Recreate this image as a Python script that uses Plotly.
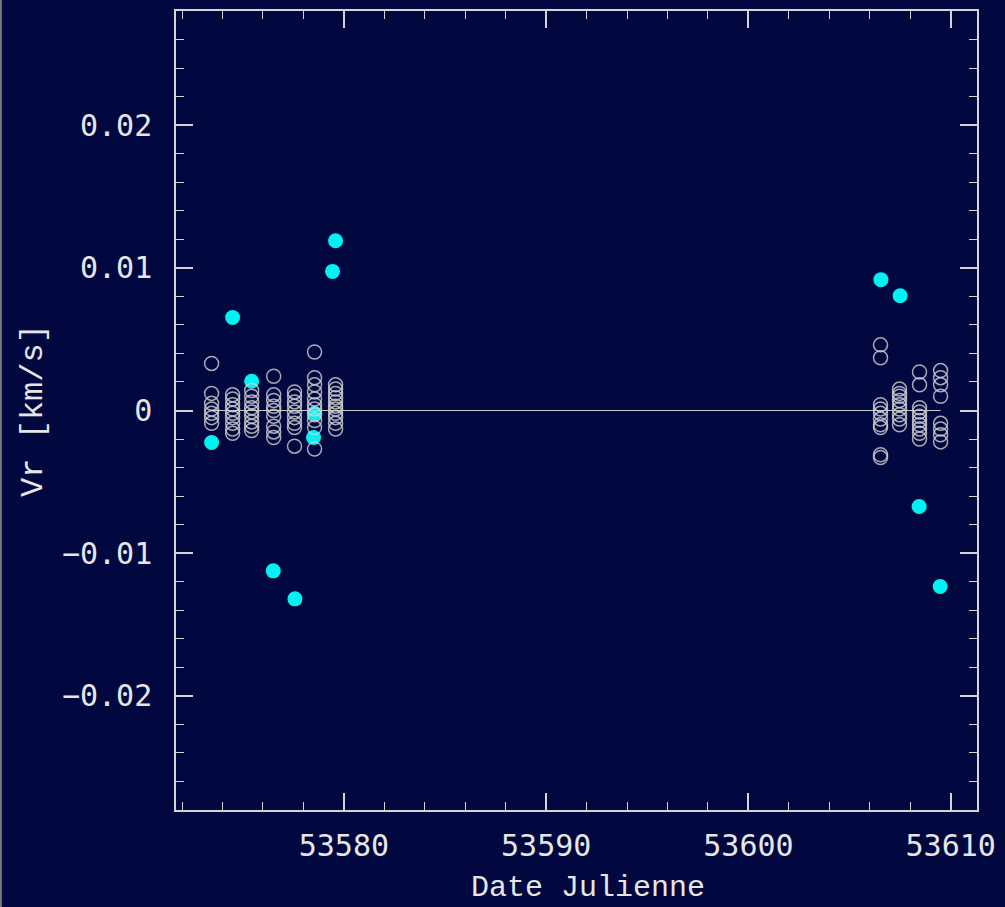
import plotly.graph_objects as go

# --- data ---
# individual measurements (open circles)
col_dates = [53573.46, 53574.50, 53575.44, 53576.53, 53577.56, 53578.55, 53579.59,
             53606.53, 53607.47, 53608.46, 53609.50]
col_values = [
    [0.0033, 0.0012, 0.0005, 0.0001, -0.0002, -0.0005, -0.0009],
    [0.0011, 0.0008, 0.0004, 0.0001, -0.0002, -0.0005, -0.0009, -0.0013, -0.0016],
    [0.0014, 0.0010, 0.0006, 0.0002, -0.0001, -0.0004, -0.0008, -0.0011, -0.0014],
    [0.0024, 0.0011, 0.0007, 0.0003, 0.0000, -0.0004, -0.0011, -0.0015, -0.0019],
    [0.0013, 0.0010, 0.0006, 0.0003, -0.0001, -0.0005, -0.0009, -0.0012, -0.0025],
    [0.0041, 0.0023, 0.0018, 0.0013, 0.0008, 0.0004, 0.0001, -0.0003, -0.0007, -0.0012, -0.0027],
    [0.0018, 0.0015, 0.0012, 0.0009, 0.0006, 0.0003, 0.0001, -0.0002, -0.0005, -0.0009, -0.0013],
    [0.0046, 0.0037, 0.0004, 0.0001, -0.0002, -0.0006, -0.0010, -0.0012, -0.0031, -0.0033],
    [0.0015, 0.0012, 0.0010, 0.0007, 0.0004, 0.0001, -0.0003, -0.0006, -0.0010],
    [0.0027, 0.0018, 0.0002, -0.0001, -0.0004, -0.0007, -0.0010, -0.0013, -0.0016, -0.0020],
    [0.0028, 0.0023, 0.0018, 0.0010, -0.0009, -0.0013, -0.0017, -0.0022],
]

# highlighted points (filled cyan)
hl_dates = [53573.46, 53574.50, 53575.44, 53576.51, 53577.58, 53578.50, 53578.55,
            53579.44, 53579.59, 53606.55, 53607.50, 53608.44, 53609.48]
hl_values = [-0.00224, 0.00652, 0.00205, -0.01124, -0.01320, -0.00189, -0.00020,
             0.00975, 0.01190, 0.00917, 0.00804, -0.00673, -0.01234]

x_ticks = [53580, 53590, 53600, 53610]
y_ticks = [-0.02, -0.01, 0, 0.01, 0.02]
y_ticklabels = ["\u22120.02", "\u22120.01", "0", "0.01", "0.02"]

x_title = "Date Julienne"
y_title = "Vr [km/s]"

obs_x = [d for d, vals in zip(col_dates, col_values) for _ in vals]
obs_y = [v for vals in col_values for v in vals]

BG = "#00083f"
FG = "#e6e6e6"
AX = "#d4d4d4"

fig = go.Figure()

# zero reference line across the observation span
fig.add_trace(go.Scatter(
    x=[min(obs_x), max(obs_x)], y=[0, 0], mode="lines",
    line=dict(color="#c8c8c8", width=1), hoverinfo="skip", showlegend=False))

fig.add_trace(go.Scatter(
    x=hl_dates, y=hl_values, mode="markers",
    marker=dict(symbol="circle", size=15, color="#00f2f2", line=dict(width=0)),
    showlegend=False))

fig.add_trace(go.Scatter(
    x=obs_x, y=obs_y, mode="markers",
    marker=dict(symbol="circle-open", size=14, color="rgba(210,210,210,0.8)",
                line=dict(width=1.5)),
    showlegend=False))

tickfont = dict(family="DejaVu Sans Mono", size=30, color=FG)
titlefont = dict(family="Liberation Mono", size=30, color=FG)

fig.update_xaxes(
    range=[53571.7, 53611.3], tickmode="array", tickvals=x_ticks,
    ticktext=[str(t) for t in x_ticks],
    ticks="inside", ticklen=17, tickwidth=1.5, tickcolor=AX,
    showline=True, linecolor=AX, linewidth=1.5, mirror="allticks",
    showgrid=False, zeroline=False, tickfont=tickfont, ticklabelstandoff=8,
    minor=dict(dtick=2, tick0=53580, ticks="inside", ticklen=8, tickwidth=1.2,
               tickcolor=AX, showgrid=False),
)
fig.update_yaxes(
    range=[-0.028, 0.028], tickmode="array", tickvals=y_ticks, ticktext=y_ticklabels,
    ticks="inside", ticklen=17, tickwidth=1.5, tickcolor=AX,
    showline=True, linecolor=AX, linewidth=1.5, mirror="allticks",
    showgrid=False, zeroline=False, tickfont=tickfont, ticklabelstandoff=16,
    minor=dict(dtick=0.002, tick0=0, ticks="inside", ticklen=8, tickwidth=1.2,
               tickcolor=AX, showgrid=False),
    title=dict(text=y_title, font=dict(family="Liberation Mono", size=32, color=FG),
               standoff=10),
)

fig.update_layout(
    width=1005, height=907, autosize=False,
    margin=dict(l=176, r=28, t=9, b=97),
    paper_bgcolor=BG, plot_bgcolor=BG,
    annotations=[dict(text=x_title, xref="paper", yref="paper", x=0.514, y=-0.097,
                      xanchor="center", yanchor="middle", showarrow=False,
                      font=titlefont)],
    shapes=[dict(type="line", xref="paper", yref="paper", x0=-0.2186, x1=-0.2186,
                 y0=-0.13, y1=1.02, line=dict(color="#777777", width=2))],
)

fig.write_html(
    "out.html",
    config={"displayModeBar": False},
    post_script="document.body.style.margin='0';document.body.style.background='#00083f';",
)
